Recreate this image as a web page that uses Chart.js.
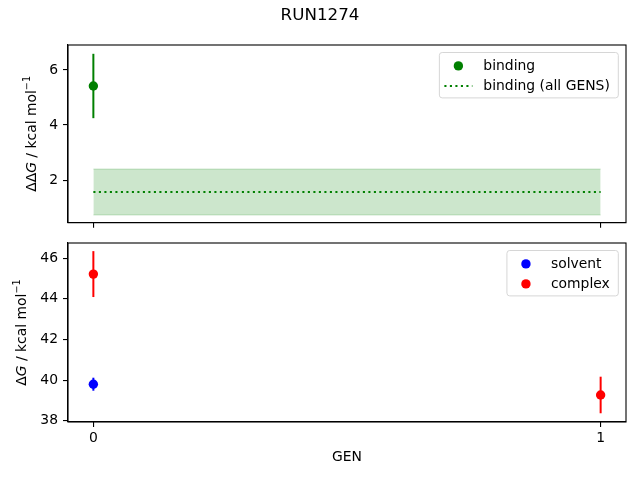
<!DOCTYPE html>
<html>
<head>
<meta charset="UTF-8">
<title>RUN1274</title>
<script src="https://cdn.jsdelivr.net/npm/chart.js@4"></script>
<style>
  html, body { margin: 0; padding: 0; background: #fff; }
  #wrap { position: relative; width: 640px; height: 480px; }
  #wrap canvas { position: absolute; left: 0; top: 0; }
</style>
</head>
<body>
<div id="wrap">
  <canvas id="topChart" width="640" height="480"></canvas>
  <canvas id="bottomChart" width="640" height="480"></canvas>
</div>
<script>
// Dados
const gens = [0, 1];
const xTicks = [0, 1];
const xRange = [-0.05, 1.05];

const bindingGen = [0];
const bindingVal = [5.42];
const bindingErr = [1.17];
const bindingAllMean = 1.565;
const bindingAllErr = 0.835;

const solventGen = [0];
const solventVal = [39.8];
const solventErr = [0.32];

const complexGen = [0, 1];
const complexVal = [45.22, 39.27];
const complexErr = [1.13, 0.9];

const topYTicks = [2, 4, 6];
const topYRange = [0.45, 6.91];
const bottomYTicks = [38, 40, 42, 44, 46];
const bottomYRange = [37.94, 46.75];

const topLegendLabels = ['binding', 'binding (all GENS)'];
const bottomLegendLabels = ['solvent', 'complex'];

const FONT = '"DejaVu Sans", sans-serif';
const FS = 13.9;
const DOT = 4.7;
Chart.defaults.font.family = FONT;
Chart.defaults.font.size = FS;
Chart.defaults.color = '#000';

const GREEN = '#008000', BLUE = '#0000ff', RED = '#ff0000';

const toPoints = (xs, ys) => xs.map((x, i) => ({ x: x, y: ys[i] }));

// barras de erro verticais, desenhadas pelas escalas
const errorBars = {
  id: 'errorBars',
  beforeDatasetsDraw(chart) {
    const ctx = chart.ctx;
    const xs = chart.scales.x, ys = chart.scales.y;
    chart.data.datasets.forEach(ds => {
      if (!ds.yErr) return;
      ctx.save();
      ctx.strokeStyle = ds.borderColor;
      ctx.lineWidth = 2;
      ds.data.forEach((p, j) => {
        const px = xs.getPixelForValue(p.x);
        ctx.beginPath();
        ctx.moveTo(px, ys.getPixelForValue(p.y - ds.yErr[j]));
        ctx.lineTo(px, ys.getPixelForValue(p.y + ds.yErr[j]));
        ctx.stroke();
      });
      ctx.restore();
    });
  }
};

// moldura completa do eixo (topo e direita também)
const frame = {
  id: 'frame',
  afterDatasetsDraw(chart) {
    const { ctx, chartArea: a } = chart;
    ctx.save();
    ctx.strokeStyle = '#000';
    ctx.lineWidth = 1.1;
    ctx.strokeRect(a.left, a.top, a.right - a.left, a.bottom - a.top);
    ctx.restore();
  }
};

// legenda estilo matplotlib dentro da área do gráfico
const mplLegend = {
  id: 'mplLegend',
  afterDraw(chart, args, opts) {
    const { ctx, chartArea } = chart;
    ctx.save();
    ctx.font = FS + 'px ' + FONT;
    const textW = Math.max(...opts.items.map(it => ctx.measureText(it.label).width));
    const w = 44 + textW + 8.5;
    const h = 13.4 + 20 * (opts.items.length - 1) + 12;
    const right = chartArea.right - 7.7;
    const left = right - w;
    const top = chartArea.top + 7.5;
    ctx.beginPath();
    ctx.roundRect(left, top, w, h, 2.8);
    ctx.fillStyle = 'rgba(255,255,255,0.8)';
    ctx.fill();
    ctx.strokeStyle = '#d6d6d6';
    ctx.lineWidth = 1;
    ctx.stroke();
    opts.items.forEach((it, i) => {
      const cy = top + 13.4 + 20 * i;
      if (it.kind === 'dot') {
        ctx.beginPath();
        ctx.arc(left + 19, cy, DOT, 0, Math.PI * 2);
        ctx.fillStyle = it.color;
        ctx.fill();
      } else {
        ctx.beginPath();
        ctx.setLineDash([2.1, 3.4]);
        ctx.moveTo(left + 5, cy);
        ctx.lineTo(left + 33, cy);
        ctx.strokeStyle = it.color;
        ctx.lineWidth = 2;
        ctx.stroke();
        ctx.setLineDash([]);
      }
      ctx.fillStyle = '#000';
      ctx.textBaseline = 'middle';
      ctx.textAlign = 'left';
      ctx.fillText(it.label, left + 44, cy + 0.5);
    });
    ctx.restore();
  }
};

// rótulo do eixo y com G em itálico e expoente, e o título da figura
const extraText = {
  id: 'extraText',
  afterDraw(chart, args, opts) {
    const { ctx, chartArea } = chart;
    ctx.save();
    if (opts.title) {
      ctx.font = '16.7px ' + FONT;
      ctx.fillStyle = '#000';
      ctx.textAlign = 'center';
      ctx.textBaseline = 'middle';
      ctx.fillText(opts.title, 320, 16);
    }
    const parts = opts.ylabel;
    const fontOf = p => (p.italic ? 'italic ' : '') + (p.sup ? FS * 0.7 : FS) + 'px ' + FONT;
    let total = 0;
    parts.forEach(p => { ctx.font = fontOf(p); total += ctx.measureText(p.t).width; });
    ctx.translate(opts.ylabelX, (chartArea.top + chartArea.bottom) / 2);
    ctx.rotate(-Math.PI / 2);
    ctx.textAlign = 'left';
    ctx.textBaseline = 'middle';
    ctx.fillStyle = '#000';
    let x = -total / 2;
    parts.forEach(p => {
      ctx.font = fontOf(p);
      ctx.fillText(p.t, x, p.sup ? -5 : 0);
      x += ctx.measureText(p.t).width;
    });
    ctx.restore();
  }
};

const axisLine = { color: '#000', width: 1.1 };
const tickGrid = { drawOnChartArea: false, tickLength: 5, color: '#000', lineWidth: 1.1 };

function yScale(range, ticks) {
  return {
    type: 'linear',
    min: range[0],
    max: range[1],
    afterBuildTicks: s => { s.ticks = ticks.map(v => ({ value: v })); },
    afterFit: s => { s.width = 68; },
    grid: tickGrid,
    border: axisLine,
    ticks: { padding: 5, font: { size: FS } }
  };
}

function xScale(height, showLabels) {
  return {
    type: 'linear',
    min: xRange[0],
    max: xRange[1],
    afterBuildTicks: s => { s.ticks = xTicks.map(v => ({ value: v })); },
    afterFit: s => { s.height = height; },
    grid: tickGrid,
    border: axisLine,
    ticks: {
      padding: 3,
      maxRotation: 0,
      autoSkip: false,
      callback: v => showLabels ? String(v) : ''
    },
    title: {
      display: showLabels,
      text: 'GEN',
      font: { size: FS },
      padding: { top: 0, bottom: 14.4 }
    }
  };
}

const commonOpts = {
  animation: false,
  responsive: false,
  events: []
};

// Painel de cima: ΔΔG
new Chart(document.getElementById('topChart'), {
  type: 'scatter',
  data: {
    datasets: [
      {
        label: topLegendLabels[0],
        data: toPoints(bindingGen, bindingVal),
        yErr: bindingErr,
        backgroundColor: GREEN,
        borderColor: GREEN,
        pointRadius: DOT,
        pointBorderWidth: 0,
        order: 0
      },
      {
        label: topLegendLabels[1],
        data: toPoints(gens, gens.map(() => bindingAllMean)),
        showLine: true,
        borderColor: GREEN,
        borderWidth: 2,
        borderDash: [2.1, 3.4],
        pointRadius: 0,
        fill: false,
        order: 1
      },
      {
        label: 'band low',
        data: toPoints(gens, gens.map(() => bindingAllMean - bindingAllErr)),
        showLine: true,
        borderColor: 'rgba(0,128,0,0.2)',
        borderWidth: 1,
        pointRadius: 0,
        fill: false,
        order: 2
      },
      {
        label: 'band high',
        data: toPoints(gens, gens.map(() => bindingAllMean + bindingAllErr)),
        showLine: true,
        borderColor: 'rgba(0,128,0,0.2)',
        backgroundColor: 'rgba(0,128,0,0.2)',
        borderWidth: 1,
        pointRadius: 0,
        fill: '-1',
        order: 3
      }
    ]
  },
  options: {
    ...commonOpts,
    layout: { padding: { top: 45, left: 0, right: 14, bottom: 480 - 222.7 - 10 } },
    scales: {
      x: xScale(10, false),
      y: yScale(topYRange, topYTicks)
    },
    plugins: {
      legend: { display: false },
      tooltip: { enabled: false },
      mplLegend: {
        items: [
          { label: topLegendLabels[0], kind: 'dot', color: GREEN },
          { label: topLegendLabels[1], kind: 'dotted', color: GREEN }
        ]
      },
      extraText: {
        title: 'RUN1274',
        ylabelX: 32,
        ylabel: [
          { t: 'ΔΔ' }, { t: 'G', italic: true }, { t: ' / kcal mol' }, { t: '−1', sup: true }
        ]
      }
    }
  },
  plugins: [errorBars, frame, mplLegend, extraText]
});

// Painel de baixo: ΔG solvente e complexo
new Chart(document.getElementById('bottomChart'), {
  type: 'scatter',
  data: {
    datasets: [
      {
        label: bottomLegendLabels[0],
        data: toPoints(solventGen, solventVal),
        yErr: solventErr,
        backgroundColor: BLUE,
        borderColor: BLUE,
        pointRadius: DOT,
        pointBorderWidth: 0
      },
      {
        label: bottomLegendLabels[1],
        data: toPoints(complexGen, complexVal),
        yErr: complexErr,
        backgroundColor: RED,
        borderColor: RED,
        pointRadius: DOT,
        pointBorderWidth: 0
      }
    ]
  },
  options: {
    ...commonOpts,
    layout: { padding: { top: 243, left: 0, right: 14, bottom: 0 } },
    scales: {
      x: xScale(58, true),
      y: yScale(bottomYRange, bottomYTicks)
    },
    plugins: {
      legend: { display: false },
      tooltip: { enabled: false },
      mplLegend: {
        items: [
          { label: bottomLegendLabels[0], kind: 'dot', color: BLUE },
          { label: bottomLegendLabels[1], kind: 'dot', color: RED }
        ]
      },
      extraText: {
        ylabelX: 22.5,
        ylabel: [
          { t: 'Δ' }, { t: 'G', italic: true }, { t: ' / kcal mol' }, { t: '−1', sup: true }
        ]
      }
    }
  },
  plugins: [errorBars, frame, mplLegend, extraText]
});
</script>
</body>
</html>
